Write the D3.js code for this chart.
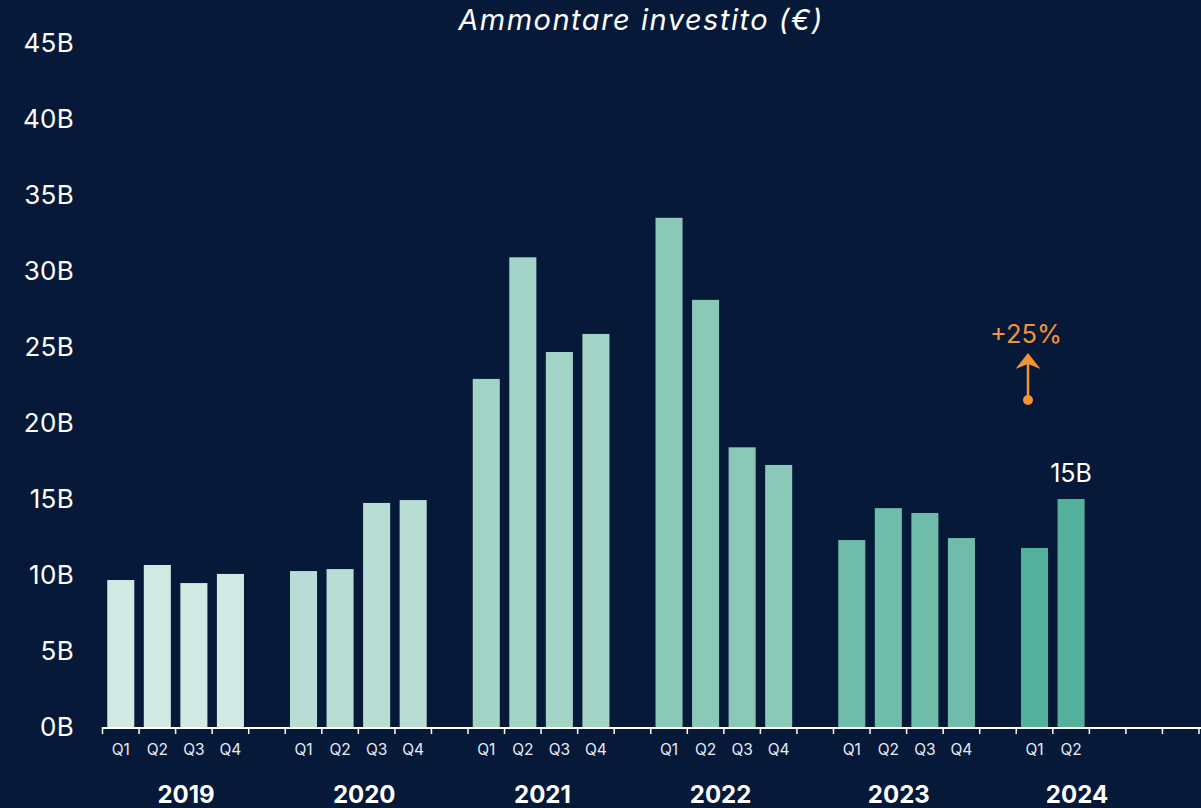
<!DOCTYPE html>
<html>
<head>
<meta charset="utf-8">
<script src="https://cdn.jsdelivr.net/npm/d3@7"></script>
<style>
  html, body { margin: 0; padding: 0; background: #061939; }
  svg { display: block; font-family: Inter, "Noto Sans", sans-serif; }
</style>
</head>
<body>
<svg id="chart" width="1201" height="808"></svg>
<script>
// Data
const years = ["2019", "2020", "2021", "2022", "2023", "2024"];
const quarters = ["Q1", "Q2", "Q3", "Q4"];
const values = {
  "2019": [9.67, 10.66, 9.47, 10.07],
  "2020": [10.26, 10.39, 14.74, 14.93],
  "2021": [22.9, 30.9, 24.67, 25.86],
  "2022": [33.5, 28.1, 18.4, 17.24],
  "2023": [12.3, 14.4, 14.08, 12.43],
  "2024": [11.78, 15.0]
};
const yearColors = ["#d1e9e3", "#b8ded4", "#a2d4c5", "#8bc8b7", "#6fbcaa", "#53b09a"];
const yTicks = [0, 5, 10, 15, 20, 25, 30, 35, 40, 45];

// Config
const W = 1201, H = 808;
const X0 = 102.5, X1 = 1199, Y0 = 727, Y1 = 43;

// slots: each year has 4 quarters + one empty gap slot
const slots = [];
years.forEach((y) => {
  quarters.forEach((q) => slots.push(`${y}-${q}`));
  slots.push(`${y}-gap`);
});

const rows = [];
years.forEach((y, yi) => {
  values[y].forEach((v, qi) => {
    rows.push({ key: `${y}-${quarters[qi]}`, year: y, yi, q: quarters[qi], value: v });
  });
});

const svg = d3.select("#chart");

const x = d3.scaleBand().domain(slots).range([X0, X1]).paddingInner(0.26).paddingOuter(0.13);
const xb = d3.scaleBand().domain(slots).range([X0, X1]);
const y = d3.scaleLinear().domain([0, 45]).range([Y0, Y1]);
const yearX = d3.scalePoint().domain(years).range([186, 1077]);

// Title
svg.append("text")
  .attr("x", 641).attr("y", 30)
  .attr("text-anchor", "middle")
  .attr("fill", "#ffffff")
  .attr("font-style", "italic")
  .attr("font-size", 29)
  .attr("letter-spacing", 1.5)
  .text("Ammontare investito (€)");

// Y axis labels
svg.append("g")
  .selectAll("text")
  .data(yTicks)
  .join("text")
  .attr("x", 74)
  .attr("y", (d) => y(d))
  .attr("dy", "0.36em")
  .attr("text-anchor", "end")
  .attr("fill", "#ffffff")
  .attr("font-size", 26)
  .attr("letter-spacing", 0.3)
  .text((d) => `${d}B`);

// Bars
svg.append("g")
  .selectAll("rect")
  .data(rows)
  .join("rect")
  .attr("x", (d) => x(d.key))
  .attr("width", x.bandwidth())
  .attr("y", (d) => y(d.value))
  .attr("height", (d) => y(0) - y(d.value))
  .attr("fill", (d) => yearColors[d.yi]);

// X axis line and ticks at slot boundaries
const axisG = svg.append("g");
axisG.append("line")
  .attr("x1", X0).attr("x2", W)
  .attr("y1", Y0 + 1).attr("y2", Y0 + 1)
  .attr("stroke", "#ffffff").attr("stroke-width", 2);
const bounds = slots.map((s) => xb(s)).concat([X1]);
axisG.selectAll(".tick")
  .data(bounds)
  .join("line")
  .attr("class", "tick")
  .attr("x1", (d) => d).attr("x2", (d) => d)
  .attr("y1", Y0).attr("y2", Y0 + 7)
  .attr("stroke", "#ffffff").attr("stroke-width", 1.5);

// Quarter labels
axisG.selectAll(".qlab")
  .data(rows)
  .join("text")
  .attr("class", "qlab")
  .attr("x", (d) => xb(d.key) + xb.bandwidth() / 2)
  .attr("y", 755)
  .attr("text-anchor", "middle")
  .attr("fill", "#e6ecf2")
  .attr("font-size", 15.5)
  .text((d) => d.q);

// Year labels
axisG.selectAll(".ylab")
  .data(years)
  .join("text")
  .attr("class", "ylab")
  .attr("x", (d) => yearX(d))
  .attr("y", 803)
  .attr("text-anchor", "middle")
  .attr("fill", "#ffffff")
  .attr("font-weight", 700)
  .attr("font-size", 24)
  .text((d) => d);

// Annotation: last value
const last = rows[rows.length - 1];
svg.append("text")
  .attr("x", x(last.key) + x.bandwidth() / 2)
  .attr("y", y(last.value) - 17)
  .attr("text-anchor", "middle")
  .attr("fill", "#ffffff")
  .attr("font-size", 25)
  .text(`${last.value}B`);

// Growth arrow
const orange = "#f4923a";
const ax = 1028;
svg.append("circle").attr("cx", ax).attr("cy", 400).attr("r", 5).attr("fill", orange);
svg.append("line")
  .attr("x1", ax).attr("x2", ax).attr("y1", 400).attr("y2", 362)
  .attr("stroke", orange).attr("stroke-width", 2.5);
svg.append("path")
  .attr("d", `M${ax},353 L${ax - 12.5},369 L${ax},364 L${ax + 12.5},369 Z`)
  .attr("fill", orange);
svg.append("text")
  .attr("x", 1026).attr("y", 343)
  .attr("text-anchor", "middle")
  .attr("fill", orange)
  .attr("font-size", 25.5)
  .text("+25%");
</script>
</body>
</html>
